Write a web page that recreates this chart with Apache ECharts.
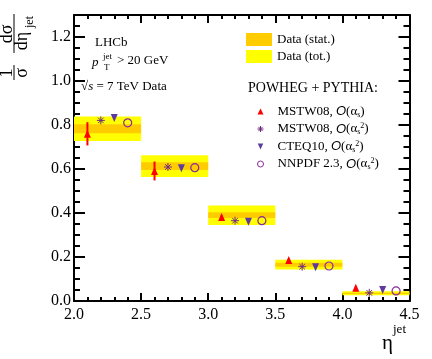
<!DOCTYPE html>
<html><head><meta charset="utf-8">
<script src="https://cdn.jsdelivr.net/npm/echarts@6/dist/echarts.min.js"></script>
<style>html,body{margin:0;padding:0;background:#fff}#c{width:432px;height:359px}</style>
</head><body><div id="c"></div>
<script>
// ---- data ----
const binLo = [2.0, 2.5, 3.0, 3.5, 4.0];
const binHi = [2.5, 3.0, 3.5, 4.0, 4.5];
const dataVal = [0.783, 0.613, 0.390, 0.165, 0.035];
const dataStat = [0.020, 0.018, 0.013, 0.009, 0.003];
const dataTot = [0.056, 0.049, 0.044, 0.022, 0.009];
const xMstwLO = [2.1, 2.6, 3.1, 3.6, 4.1];
const mstwLO = [0.760, 0.591, 0.382, 0.186, 0.060];
const mstwLOErr = [0.053, 0.043, 0.008, 0.006, 0.004];
const xMstwNLO = [2.2, 2.7, 3.2, 3.7, 4.2];
const mstwNLO = [0.821, 0.609, 0.365, 0.156, 0.037];
const xCteq = [2.3, 2.8, 3.3, 3.8, 4.3];
const cteq = [0.832, 0.603, 0.360, 0.153, 0.050];
const xNnpdf = [2.4, 2.9, 3.4, 3.9, 4.4];
const nnpdf = [0.810, 0.606, 0.365, 0.159, 0.046];
const xTicks = [2.0, 2.5, 3.0, 3.5, 4.0, 4.5];
const yTicks = [0.0, 0.2, 0.4, 0.6, 0.8, 1.0, 1.2];

const SERIF = '"Liberation Serif", "DejaVu Serif", serif';
const C_ORANGE = '#ffcc00', C_YELLOW = '#ffff00', C_RED = '#ff0000';
const C_STAR = '#6e2a82', C_TRI = '#5c3a9e', C_CIRC = '#8a2a9a';
const STAR = 'path://M5,0L5,10M0,5L10,5M1.5,1.5L8.5,8.5M8.5,1.5L1.5,8.5';
const TRI_DOWN = 'path://M0,0L10,0L5,11Z';

const chart = echarts.init(document.getElementById('c'), null, {renderer: 'canvas'});

function bandData(errs) {
  return binLo.map((lo, i) => [lo, binHi[i], dataVal[i], errs[i]]);
}
function bandRender(color) {
  return function (params, api) {
    const p1 = api.coord([api.value(0), api.value(2) + api.value(3)]);
    const p2 = api.coord([api.value(1), api.value(2) - api.value(3)]);
    return {type: 'rect', shape: {x: p1[0], y: p1[1], width: p2[0] - p1[0], height: p2[1] - p1[1]},
      style: {fill: color}};
  };
}
const axisBase = {
  type: 'value', gridIndex: 0,
  axisLine: {show: true, onZero: false, lineStyle: {color: '#000', width: 2}},
  splitLine: {show: false},
};
const xAxes = [
  Object.assign({}, axisBase, {position: 'bottom', min: 2.0, max: 4.5, interval: 0.5,
    axisTick: {inside: true, length: 8, lineStyle: {width: 2, color: '#000'}},
    minorTick: {show: true, splitNumber: 5, length: 4, lineStyle: {width: 2, color: '#000'}},
    axisLabel: {show: true, margin: 6, fontFamily: SERIF, fontSize: 16, color: '#000',
      formatter: v => xTicks.some(t => Math.abs(t - v) < 1e-6) ? v.toFixed(1) : ''}}),
  Object.assign({}, axisBase, {position: 'top', min: 2.0, max: 4.5, interval: 0.5,
    axisTick: {inside: true, length: 8, lineStyle: {width: 2, color: '#000'}},
    minorTick: {show: true, splitNumber: 5, length: 4, lineStyle: {width: 2, color: '#000'}},
    axisLabel: {show: false}})
];
const yAxes = [
  Object.assign({}, axisBase, {position: 'left', min: 0, max: 1.3, interval: 0.2,
    axisTick: {inside: true, length: 11, lineStyle: {width: 2, color: '#000'}},
    axisLabel: {show: true, margin: 3, fontFamily: SERIF, fontSize: 16, color: '#000', showMaxLabel: false,
      formatter: v => yTicks.some(t => Math.abs(t - v) < 1e-6) ? v.toFixed(1) : ''}}),
  Object.assign({}, axisBase, {position: 'left', min: 0, max: 1.3, interval: 0.05,
    axisLine: {show: false}, axisLabel: {show: false},
    axisTick: {inside: true, length: 6, lineStyle: {width: 2, color: '#000'}}}),
  Object.assign({}, axisBase, {position: 'right', min: 0, max: 1.3, interval: 0.2,
    axisLabel: {show: false},
    axisTick: {inside: true, length: 11, lineStyle: {width: 2, color: '#000'}}}),
  Object.assign({}, axisBase, {position: 'right', min: 0, max: 1.3, interval: 0.05,
    axisLine: {show: false}, axisLabel: {show: false},
    axisTick: {inside: true, length: 6, lineStyle: {width: 2, color: '#000'}}})
];

const legendRich = {
  g: {width: 9, lineHeight: 14},
  t: {fontFamily: SERIF, fontSize: 13, color: '#000', lineHeight: 14},
  i: {fontFamily: '"Liberation Sans", sans-serif', fontStyle: 'italic', fontSize: 13, color: '#000', lineHeight: 14},
  sb: {fontFamily: SERIF, fontSize: 8, color: '#000', verticalAlign: 'bottom', lineHeight: 14},
  sp: {fontFamily: SERIF, fontSize: 8, color: '#000', verticalAlign: 'top', lineHeight: 14}
};
const legendLabels = {
  'MSTW08 LO': '{g|}{t|MSTW08, }{i|O}{t|(α}{sb|s}{t|)}',
  'MSTW08 NLO': '{g|}{t|MSTW08, }{i|O}{t|(α}{sb|s}{sp|2}{t|)}',
  'CTEQ10': '{g|}{t|CTEQ10, }{i|O}{t|(α}{sb|s}{sp|2}{t|)}',
  'NNPDF': '{g|}{t|NNPDF 2.3, }{i|O}{t|(α}{sb|s}{sp|2}{t|)}'
};

const option = {
  animation: false,
  backgroundColor: '#fff',
  grid: {left: 74, right: 22.5, top: 15, bottom: 58, containLabel: false},
  xAxis: xAxes,
  yAxis: yAxes,
  legend: [
    {data: ['Data (stat.)', 'Data (tot.)'], orient: 'vertical', left: 246, top: 33, padding: 0,
      itemWidth: 26, itemHeight: 13, itemGap: 4, icon: 'rect', selectedMode: false,
      textStyle: {fontFamily: SERIF, fontSize: 13, color: '#000', lineHeight: 13}},
    {data: [
        {name: 'MSTW08 LO', itemStyle: {color: C_RED}},
        {name: 'MSTW08 NLO', itemStyle: {color: C_STAR, borderColor: C_STAR, borderWidth: 1}},
        {name: 'CTEQ10', itemStyle: {color: C_TRI}},
        {name: 'NNPDF', itemStyle: {color: 'rgba(255,255,255,0)', borderColor: C_CIRC, borderWidth: 1}}],
      orient: 'vertical', left: 257, top: 105, padding: 0,
      itemWidth: 6, itemHeight: 6, itemGap: 3.5, selectedMode: false,
      formatter: n => legendLabels[n], textStyle: {rich: legendRich}}
  ],
  series: [
    {name: 'Data (tot.)', type: 'custom', xAxisIndex: 0, yAxisIndex: 0, data: bandData(dataTot),
      renderItem: bandRender(C_YELLOW), itemStyle: {color: C_YELLOW}, z: 1},
    {name: 'Data (stat.)', type: 'custom', xAxisIndex: 0, yAxisIndex: 0, data: bandData(dataStat),
      renderItem: bandRender(C_ORANGE), itemStyle: {color: C_ORANGE}, z: 2},
    {name: 'errLO', type: 'custom', xAxisIndex: 0, yAxisIndex: 0, z: 3,
      data: xMstwLO.map((x, i) => [x, mstwLO[i], mstwLOErr[i]]),
      renderItem: function (params, api) {
        const a = api.coord([api.value(0), api.value(1) + api.value(2)]);
        const b = api.coord([api.value(0), api.value(1) - api.value(2)]);
        return {type: 'line', shape: {x1: a[0], y1: a[1], x2: b[0], y2: b[1]}, style: {stroke: C_RED, lineWidth: 2}};
      }},
    {name: 'MSTW08 LO', type: 'scatter', xAxisIndex: 0, yAxisIndex: 0, z: 4, symbol: 'triangle', symbolSize: [7, 8],
      data: xMstwLO.map((x, i) => [x, mstwLO[i]]), itemStyle: {color: C_RED, opacity: 1}},
    {name: 'MSTW08 NLO', type: 'scatter', xAxisIndex: 0, yAxisIndex: 0, z: 4,
      symbol: STAR, symbolSize: 8,
      data: xMstwNLO.map((x, i) => [x, mstwNLO[i]]),
      itemStyle: {color: C_STAR, borderColor: C_STAR, borderWidth: 1, opacity: 1}},
    {name: 'CTEQ10', type: 'scatter', xAxisIndex: 0, yAxisIndex: 0, z: 4, symbol: TRI_DOWN, symbolKeepAspect: false,
      symbolSize: [7, 8], data: xCteq.map((x, i) => [x, cteq[i]]), itemStyle: {color: C_TRI, opacity: 1}},
    {name: 'NNPDF', type: 'scatter', xAxisIndex: 0, yAxisIndex: 0, z: 4, symbol: 'circle', symbolSize: 8,
      data: xNnpdf.map((x, i) => [x, nnpdf[i]]),
      itemStyle: {color: 'rgba(255,255,255,0)', borderColor: C_CIRC, borderWidth: 1.2, opacity: 1}}
  ],
  graphic: [
    {type: 'text', x: 95, y: 43, style: {text: 'LHCb', font: '13px ' + SERIF, fill: '#000', verticalAlign: 'middle'}},
    {type: 'text', x: 92, y: 63, style: {text: 'p', font: 'italic 13px ' + SERIF, fill: '#000', verticalAlign: 'middle'}},
    {type: 'text', x: 103, y: 57, style: {text: 'jet', font: '9px ' + SERIF, fill: '#000', verticalAlign: 'middle'}},
    {type: 'text', x: 104, y: 68, style: {text: 'T', font: '9px ' + SERIF, fill: '#000', verticalAlign: 'middle'}},
    {type: 'text', x: 117, y: 61, style: {text: '> 20 GeV', font: '13px ' + SERIF, fill: '#000', verticalAlign: 'middle'}},
    {type: 'text', x: 81, y: 87, style: {text: '{a|√}{b|s}{a| = 7 TeV Data}', verticalAlign: 'middle',
      rich: {a: {font: '13px ' + SERIF, fill: '#000'}, b: {font: 'italic 13px ' + SERIF, fill: '#000'}}}},
    {type: 'text', x: 248, y: 88, style: {text: 'POWHEG + PYTHIA:', font: '14px ' + SERIF, fill: '#000', verticalAlign: 'middle'}},
    {type: 'text', x: 382, y: 343, style: {text: 'η', font: '21px ' + SERIF, fill: '#000', verticalAlign: 'middle'}},
    {type: 'text', x: 393, y: 330, style: {text: 'jet', font: '13px ' + SERIF, fill: '#000', verticalAlign: 'middle'}},
    {type: 'group', x: 14, y: 80, rotation: Math.PI / 2, children: [
      {type: 'text', style: {text: '1', x: 7, y: -7, font: '18px ' + SERIF, fill: '#000', align: 'center', verticalAlign: 'middle'}},
      {type: 'line', shape: {x1: 0, y1: 0, x2: 15, y2: 0}, style: {stroke: '#000', lineWidth: 1}},
      {type: 'text', style: {text: 'σ', x: 7, y: 8, font: '18px ' + SERIF, fill: '#000', align: 'center', verticalAlign: 'middle'}},
      {type: 'text', style: {text: 'dσ', x: 46, y: -7, font: '18px ' + SERIF, fill: '#000', align: 'center', verticalAlign: 'middle'}},
      {type: 'line', shape: {x1: 27, y1: 0, x2: 66, y2: 0}, style: {stroke: '#000', lineWidth: 1}},
      {type: 'text', style: {text: 'dη', x: 39, y: 8, font: '18px ' + SERIF, fill: '#000', align: 'center', verticalAlign: 'middle'}},
      {type: 'text', style: {text: 'jet', x: 58, y: 16, font: '12px ' + SERIF, fill: '#000', align: 'center', verticalAlign: 'middle'}}
    ]}
  ]
};
chart.setOption(option);
</script></body></html>
